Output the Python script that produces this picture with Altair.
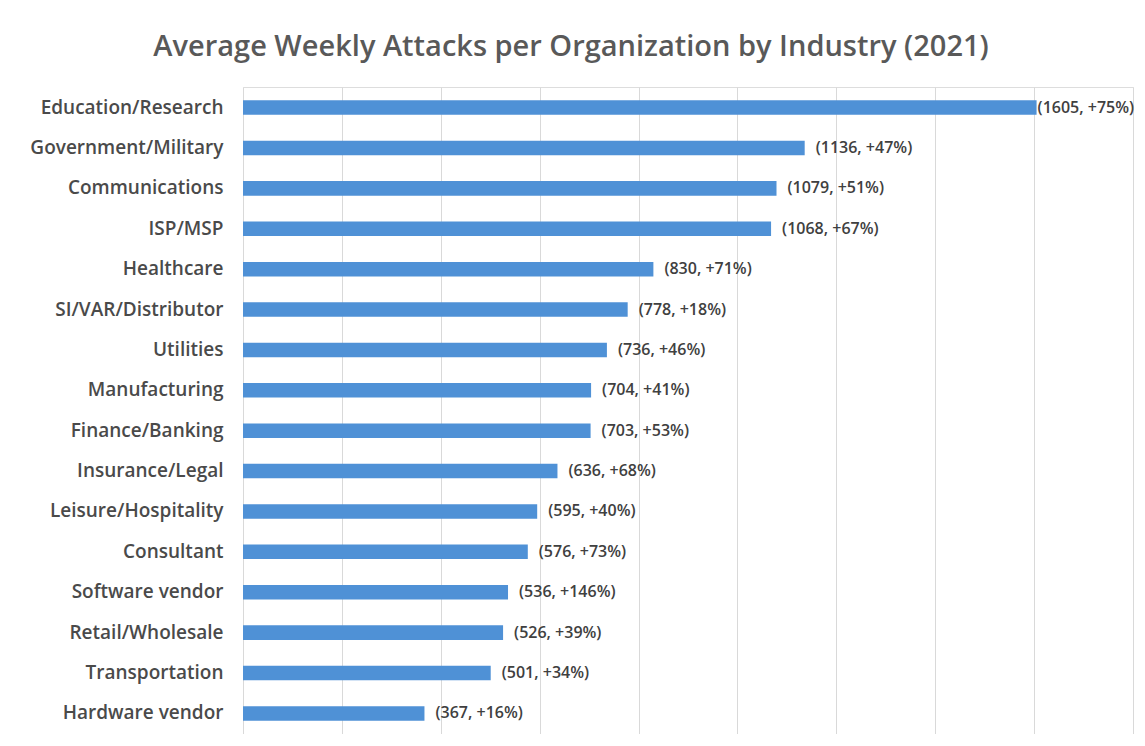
import altair as alt
import pandas as pd

industries = ["Education/Research", "Government/Military", "Communications", "ISP/MSP",
              "Healthcare", "SI/VAR/Distributor", "Utilities", "Manufacturing",
              "Finance/Banking", "Insurance/Legal", "Leisure/Hospitality", "Consultant",
              "Software vendor", "Retail/Wholesale", "Transportation", "Hardware vendor"]
attacks = [1605, 1136, 1079, 1068, 830, 778, 736, 704, 703, 636, 595, 576, 536, 526, 501, 367]
change_pct = [75, 47, 51, 67, 71, 18, 46, 41, 53, 68, 40, 73, 146, 39, 34, 16]
x_ticks = [0, 200, 400, 600, 800, 1000, 1200, 1400, 1600, 1800]

df = pd.DataFrame({"industry": industries, "attacks": attacks, "change": change_pct})
df["label"] = ["(%d, +%d%%)" % (a, c) for a, c in zip(attacks, change_pct)]

FONT = "Open Sans"

base = alt.Chart(df).encode(
    y=alt.Y("industry:N", sort=industries, title=None,
            scale=alt.Scale(paddingInner=0.64, paddingOuter=0.33),
            axis=alt.Axis(labelFont=FONT, labelFontSize=19, labelFontWeight=600,
                          labelColor="#4a4a4a", labelPadding=20, ticks=False, domain=False,
                          minExtent=235, maxExtent=235, labelLimit=300)),
)

bars = base.mark_bar(color="#4f91d6").encode(
    x=alt.X("attacks:Q", title=None,
            scale=alt.Scale(domain=[0, 1800], nice=False),
            axis=alt.Axis(values=x_ticks, labels=False, ticks=False, domain=False,
                          grid=True, gridColor="#d9d9d9", gridWidth=1)),
)

text_style = dict(align="left", baseline="middle", font=FONT,
                  fontSize=16, fontWeight=600, color="#404040")

top_name = industries[0]
text_main = base.mark_text(dx=11, **text_style).encode(
    x="attacks:Q", text="label:N",
).transform_filter(alt.datum.industry != top_name)

text_top = base.mark_text(dx=1, **text_style).encode(
    x="attacks:Q", text="label:N",
).transform_filter(alt.datum.industry == top_name)

chart = (bars + text_main + text_top).properties(
    width=890, height=647,
    title=alt.TitleParams("Average Weekly Attacks per Organization by Industry (2021)",
                          font=FONT, fontSize=29, fontWeight=600, color="#595959",
                          anchor="middle", frame="bounds", offset=25),
    padding={"top": 25, "left": 0, "right": 0, "bottom": 0},
).configure_view(stroke=None).configure(background="white")

chart.save("out.html", embed_options={"renderer": "svg", "actions": False})
